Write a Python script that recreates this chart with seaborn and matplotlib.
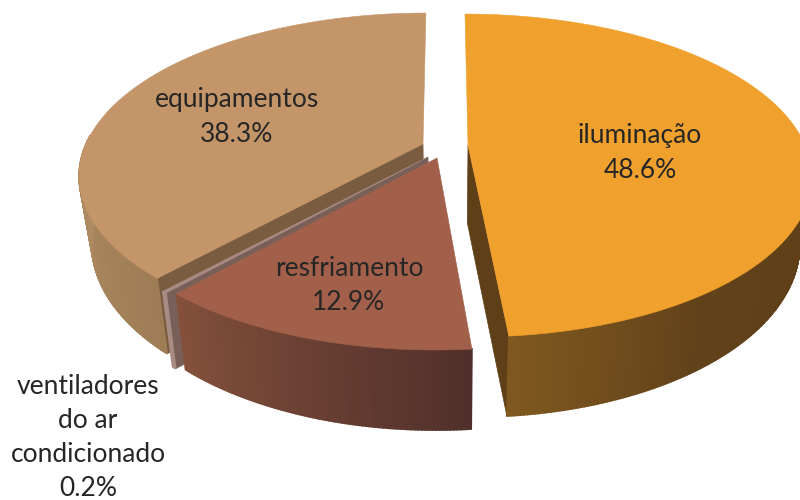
import numpy as np
import matplotlib
matplotlib.use("Agg")
import matplotlib.pyplot as plt
import seaborn as sns

# data (clockwise from 12 o'clock)
categories = ["iluminação", "resfriamento", "ventiladores\ndo ar\ncondicionado", "equipamentos"]
values = [48.6, 12.9, 0.2, 38.3]

# styling
top_colors = ["#f0a02c", "#a2604a", "#a88c84", "#c39569"]
wall_ramps = [
    ["#5f3f18", "#5f3f18", "#62421a", "#7f5820"],
    ["#50302a", "#84503c"],
    ["#a88c84", "#a88c84"],
    ["#9e7c55", "#b28f65"],
]
cut_colors = ["#5f3f18", None, "#786058", "#7a5c40"]
apexes = [(468, 145), (437, 158), (428, 157), (423, 144)]
label_pos = [(640, 153), (349, 285), (88, 438), (237, 117)]

A, B, K = 337.0, 155.7, 0.189
H0, HEIGHT_APEX, CONVERGE, X0, SHEAR = 64.9, 78.0, 0.034, 450.0, 0.001

sns.set_theme(style="white")
plt.rcParams["font.family"] = ["Lato", "DejaVu Sans"]

fig = plt.figure(figsize=(8, 5), dpi=100)
ax = fig.add_axes([0, 0, 1, 1])
ax.set_xlim(0, 800)
ax.set_ylim(500, 0)
ax.axis("off")


def project(t_deg, apex):
    t = np.radians(t_deg)
    u, v = np.sin(t), -np.cos(t)
    d = 1 - K * v
    Y = B * v / d
    X = A * u / d + (apex[0] - 445) * Y * SHEAR
    return apex[0] + X, apex[1] + Y, H0 / d


def drop(x, y, h):
    return x + (X0 - x) * CONVERGE, y + h


edges = np.cumsum([0] + values) / sum(values) * 360
cut_at_end = [True, False, False, False]   # which radial edge shows its cut face
layer = 1
for i in [3, 2, 1, 0]:  # back to front
    t0, t1 = edges[i], edges[i + 1]
    apex = apexes[i]
    ts = np.linspace(t0, t1, max(3, int((t1 - t0) * 2) + 1))
    xs, ys, hs = project(ts, apex)
    bx, by = drop(xs, ys, hs)

    # cut face
    if cut_colors[i] is not None:
        ex, ey, eh = project(t1 if cut_at_end[i] else t0, apex)
        ebx, eby = drop(ex, ey, eh)
        abx, aby = drop(apex[0], apex[1], HEIGHT_APEX)
        ax.fill([apex[0], ex, ebx, abx], [apex[1], ey, eby, aby],
                color=cut_colors[i], lw=0.5, zorder=layer)

    # outer wall, shaded; only the near half of the rim can be seen
    near = np.where(np.cos(np.radians(ts[:-1])) < 0.05)[0]
    ramp = sns.blend_palette(wall_ramps[i], len(near))
    for c, j in zip(ramp, near):
        ax.fill([xs[j], xs[j + 1], bx[j + 1], bx[j]],
                [ys[j], ys[j + 1], by[j + 1], by[j]],
                color=c, lw=1.2, zorder=layer + 0.2)

    # top face
    ax.fill(np.r_[apex[0], xs], np.r_[apex[1], ys], color=top_colors[i],
            lw=0.4, zorder=layer + 0.5)
    layer += 1

# labels
for name, val, (lx, ly) in zip(categories, values, label_pos):
    ax.text(lx, ly, f"{name}\n{val}%", ha="center", va="center", fontsize=19,
            color="#262626", linespacing=1.45, zorder=20)

fig.savefig("out.png", dpi=100)
